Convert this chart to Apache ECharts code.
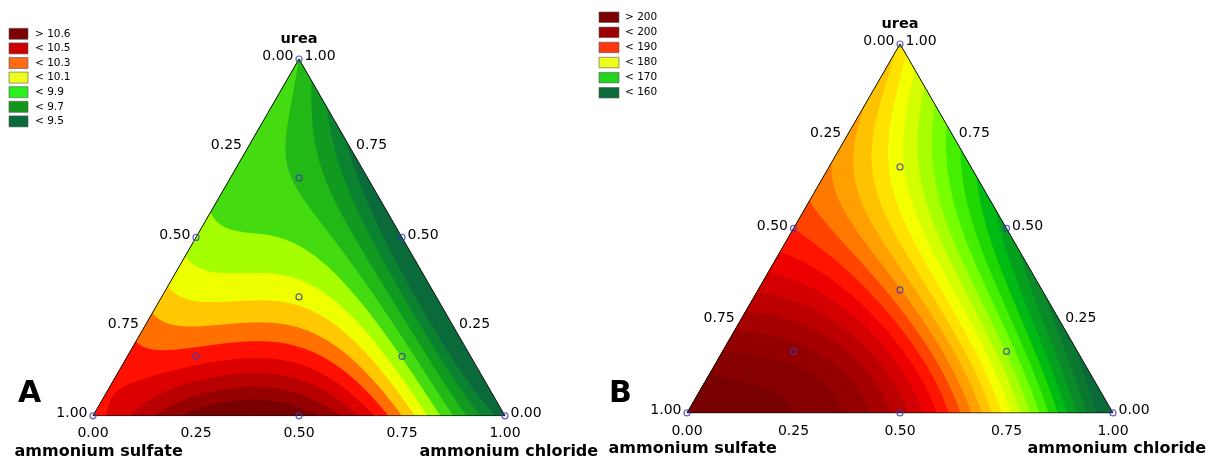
<!DOCTYPE html>
<html><head><meta charset="utf-8">
<script src="https://cdn.jsdelivr.net/npm/echarts@6/dist/echarts.min.js"></script>
<style>html,body{margin:0;padding:0;background:#fff}#chart{width:1211px;height:461px}</style>
</head><body><div id="chart"></div>
<script>
// {4,4} simplex-lattice points (fractions of ammonium sulfate, ammonium chloride, urea)
const latticeSulfate  = [1, 0.75, 0.5, 0.25, 0, 0.75, 0.5, 0.25, 0, 0.5, 0.25, 0, 0.25, 0, 0];
const latticeChloride = [0, 0.25, 0.5, 0.75, 1, 0, 0.25, 0.5, 0.75, 0, 0.25, 0.5, 0, 0.25, 0];
const latticeUrea     = [0, 0, 0, 0, 0, 0.25, 0.25, 0.25, 0.25, 0.5, 0.5, 0.5, 0.75, 0.75, 1];
// response surface values read at those lattice points
const responseA = [10.35, 10.75, 10.77, 10.20, 9.45, 10.25, 10.22, 10.05, 9.30, 9.95, 9.88, 9.33, 9.86, 9.48, 9.80];
const responseB = [206, 204, 197, 179, 157, 199, 195, 181, 161, 190, 181, 165, 185, 171, 181.5];

// contour levels and band colours (low -> high)
const levelsA = [9.5, 9.6, 9.7, 9.8, 9.9, 10.0, 10.1, 10.2, 10.3, 10.4, 10.5, 10.6, 10.7];
const bandColorsA = ['#0b6a3a','#0b8230','#109a20','#22b816','#44dc10','#a6ff00','#eeff00','#ffc800','#ff7000','#ff1000','#dd0000','#b80000','#960000','#7a0000'];
const levelsB = [160, 162, 164, 166, 168, 170, 172, 174, 176, 178, 180, 182, 184, 186, 188, 190, 192, 194, 196, 198, 200, 202, 204];
const bandColorsB = ['#0a6a3a','#0b7832','#0a8a28','#04a01e','#00bb14','#1ed800','#44f000','#77ff00','#a8ff00','#d4ff00','#f4ff00','#ffe200','#ffc200','#ffa000','#ff7800','#ff4400','#ff1400','#ec0000','#d20000','#bc0000','#a60000','#940000','#860000','#780000'];

// design points
const designSulfate  = [1, 0, 0, 0.5, 0.5, 0, 0.6667, 0.1667, 0.1667, 0.3333];
const designChloride = [0, 1, 0, 0.5, 0, 0.5, 0.1667, 0.6667, 0.1667, 0.3333];
const designUrea     = [0, 0, 1, 0, 0.5, 0.5, 0.1667, 0.1667, 0.6667, 0.3333];

// axis ticks
const tickValues = [0, 0.25, 0.5, 0.75, 1];
const tickLabels = ['0.00', '0.25', '0.50', '0.75', '1.00'];

// legends
const legendLabelsA = ['> 10.6', '< 10.5', '< 10.3', '< 10.1', '< 9.9', '< 9.7', '< 9.5'];
const legendColorsA = ['#7d0000', '#cc0000', '#ff6a14', '#eeff1e', '#2cf01e', '#12961c', '#0b6a3a'];
const legendLabelsB = ['> 200', '< 200', '< 190', '< 180', '< 170', '< 160'];
const legendColorsB = ['#7d0000', '#9c0000', '#ff3814', '#eeff1e', '#22d41e', '#0b6a3a'];

const SQ = Math.sqrt(3) / 2;
function toXY(s, c, u) { return [c + u / 2, u * SQ]; }
function lagr(m, x) { let p = 1; for (let a = 0; a < m; a++) p *= (4 * x - a) / (a + 1); return p; }
function surface(resp, s, c, u) {
  let v = 0;
  for (let p = 0; p < resp.length; p++) {
    v += resp[p] * lagr(Math.round(latticeSulfate[p] * 4), s) * lagr(Math.round(latticeChloride[p] * 4), c) * lagr(Math.round(latticeUrea[p] * 4), u);
  }
  return v;
}
function buildMesh(resp, n) {
  const nodes = [];
  for (let b = 0; b <= n; b++) {
    const row = [];
    for (let a = 0; a <= n - b; a++) {
      const c = a / n, u = b / n, s = Math.max(0, 1 - c - u);
      const p = toXY(s, c, u);
      row.push([p[0], p[1], surface(resp, s, c, u)]);
    }
    nodes.push(row);
  }
  const tris = [];
  const mk = (p, q, r) => ({ pts: [p, q, r], min: Math.min(p[2], q[2], r[2]), max: Math.max(p[2], q[2], r[2]) });
  for (let b = 0; b < n; b++) for (let a = 0; a < n - b; a++) {
    tris.push(mk(nodes[b][a], nodes[b][a + 1], nodes[b + 1][a]));
    if (a + 1 < n - b) tris.push(mk(nodes[b][a + 1], nodes[b + 1][a + 1], nodes[b + 1][a]));
  }
  return tris;
}
function clipAbove(pts, t) {
  const out = [];
  for (let i = 0; i < pts.length; i++) {
    const A = pts[i], B = pts[(i + 1) % pts.length];
    const ain = A[2] >= t, bin = B[2] >= t;
    if (ain) out.push(A);
    if (ain !== bin) { const k = (t - A[2]) / (B[2] - A[2]); out.push([A[0] + k * (B[0] - A[0]), A[1] + k * (B[1] - A[1]), t]); }
  }
  return out;
}
const meshA = buildMesh(responseA, 80);
const meshB = buildMesh(responseB, 80);

function contourSeries(gi, mesh, levels, colors) {
  return {
    type: 'custom', xAxisIndex: gi, yAxisIndex: gi, coordinateSystem: 'cartesian2d',
    silent: true, animation: false, clip: false, z: 1,
    data: colors.map((c, k) => ({ value: [0, 0, k] })),
    renderItem: function (params, api) {
      const k = api.value(2);
      const t = k === 0 ? -Infinity : levels[k - 1];
      const parts = [];
      for (const tri of mesh) {
        if (tri.max < t) continue;
        const poly = tri.min >= t ? tri.pts : clipAbove(tri.pts, t);
        if (poly.length < 3) continue;
        for (let i = 0; i < poly.length; i++) {
          const q = api.coord([poly[i][0], poly[i][1]]);
          parts.push((i ? 'L' : 'M') + q[0].toFixed(2) + ' ' + q[1].toFixed(2));
        }
        parts.push('Z');
      }
      return { type: 'path', shape: { pathData: parts.join('') }, style: { fill: colors[k], stroke: null } };
    }
  };
}
function outlineSeries(gi) {
  const v = [toXY(1, 0, 0), toXY(0, 1, 0), toXY(0, 0, 1), toXY(1, 0, 0)];
  return { type: 'line', xAxisIndex: gi, yAxisIndex: gi, data: v, symbol: 'none', silent: true, animation: false, z: 3,
    lineStyle: { color: '#111', width: 1 } };
}
function designSeries(gi) {
  return { type: 'scatter', xAxisIndex: gi, yAxisIndex: gi, silent: true, animation: false, z: 4,
    symbol: 'circle', symbolSize: 6,
    itemStyle: { color: 'rgba(0,0,0,0)', borderColor: '#3a3ab4', borderWidth: 1.2 },
    data: designSulfate.map((s, i) => toXY(s, designChloride[i], designUrea[i])) };
}
const tickFont = { fontFamily: 'DejaVu Sans', fontSize: 14, color: '#000000', textBorderWidth: 0 };
function labelSeries(gi, pts, texts, pos, align, font) {
  return { type: 'scatter', xAxisIndex: gi, yAxisIndex: gi, silent: true, animation: false, z: 5,
    symbol: 'circle', symbolSize: 1, itemStyle: { color: 'rgba(0,0,0,0)', opacity: 1 },
    data: pts,
    label: Object.assign({ show: true, position: pos, align: align, verticalAlign: 'middle',
      formatter: p => texts[p.dataIndex] }, font) };
}
function panelSeries(gi, mesh, levels, colors) {
  const bottom = tickValues.map(t => toXY(1 - t, t, 0));          // ammonium chloride
  const left = tickValues.map(t => toXY(t, 0, 1 - t));            // ammonium sulfate
  const right = tickValues.map(t => toXY(0, 1 - t, t));           // urea
  const titleFont = { fontFamily: 'DejaVu Sans', fontSize: 16, fontWeight: 'bold', color: '#000000', textBorderWidth: 0 };
  return [
    contourSeries(gi, mesh, levels, colors),
    outlineSeries(gi),
    designSeries(gi),
    labelSeries(gi, bottom, tickLabels, [0.5, 18.5], 'center', tickFont),
    labelSeries(gi, left, tickLabels, [-5, -2], 'right', tickFont),
    labelSeries(gi, right, tickLabels, [6, -2], 'left', tickFont),
    labelSeries(gi, [toXY(0, 0, 1)], ['urea'], [0.5, -19], 'center', { fontFamily: 'DejaVu Sans', fontSize: 14.5, fontWeight: 'bold', color: '#000000', textBorderWidth: 0 }),
    labelSeries(gi, [toXY(1, 0, 0)], ['ammonium sulfate'], [-78, 36.5], 'left', titleFont),
    labelSeries(gi, [toXY(0, 1, 0)], ['ammonium chloride'], [-85, 36.5], 'left', titleFont)
  ];
}
function legendGraphic(x0, y0, step, w, h, tx, labels, colors) {
  const els = [];
  labels.forEach((lab, i) => {
    const top = y0 + i * step;
    els.push({ type: 'rect', shape: { x: x0, y: top, width: w, height: h }, style: { fill: colors[i], stroke: '#555', lineWidth: 0.6 } });
    els.push({ type: 'text', x: tx, y: top + h / 2, style: { text: lab, fill: '#000', font: '10.5px "DejaVu Sans"', verticalAlign: 'middle', align: 'left' } });
  });
  return els;
}

const chart = echarts.init(document.getElementById('chart'), null, { renderer: 'canvas' });
chart.setOption({
  animation: false,
  backgroundColor: '#fff',
  grid: [
    { left: 93, top: 59, width: 412, height: 412 * SQ },
    { left: 687, top: 44, width: 426, height: 426 * SQ }
  ],
  xAxis: [
    { gridIndex: 0, type: 'value', min: 0, max: 1, show: false },
    { gridIndex: 1, type: 'value', min: 0, max: 1, show: false }
  ],
  yAxis: [
    { gridIndex: 0, type: 'value', min: 0, max: SQ, show: false },
    { gridIndex: 1, type: 'value', min: 0, max: SQ, show: false }
  ],
  graphic: [].concat(
    legendGraphic(9, 28.3, 14.6, 19, 11, 35, legendLabelsA, legendColorsA),
    legendGraphic(599, 12, 15.1, 20, 10.5, 625, legendLabelsB, legendColorsB),
    [
      { type: 'text', x: 18, y: 394, style: { text: 'A', fill: '#000', font: 'bold 30px "DejaVu Sans"', verticalAlign: 'middle' } },
      { type: 'text', x: 609, y: 394, style: { text: 'B', fill: '#000', font: 'bold 30px "DejaVu Sans"', verticalAlign: 'middle' } }
    ]
  ),
  series: [].concat(
    panelSeries(0, meshA, levelsA, bandColorsA),
    panelSeries(1, meshB, levelsB, bandColorsB)
  )
});
</script></body></html>
